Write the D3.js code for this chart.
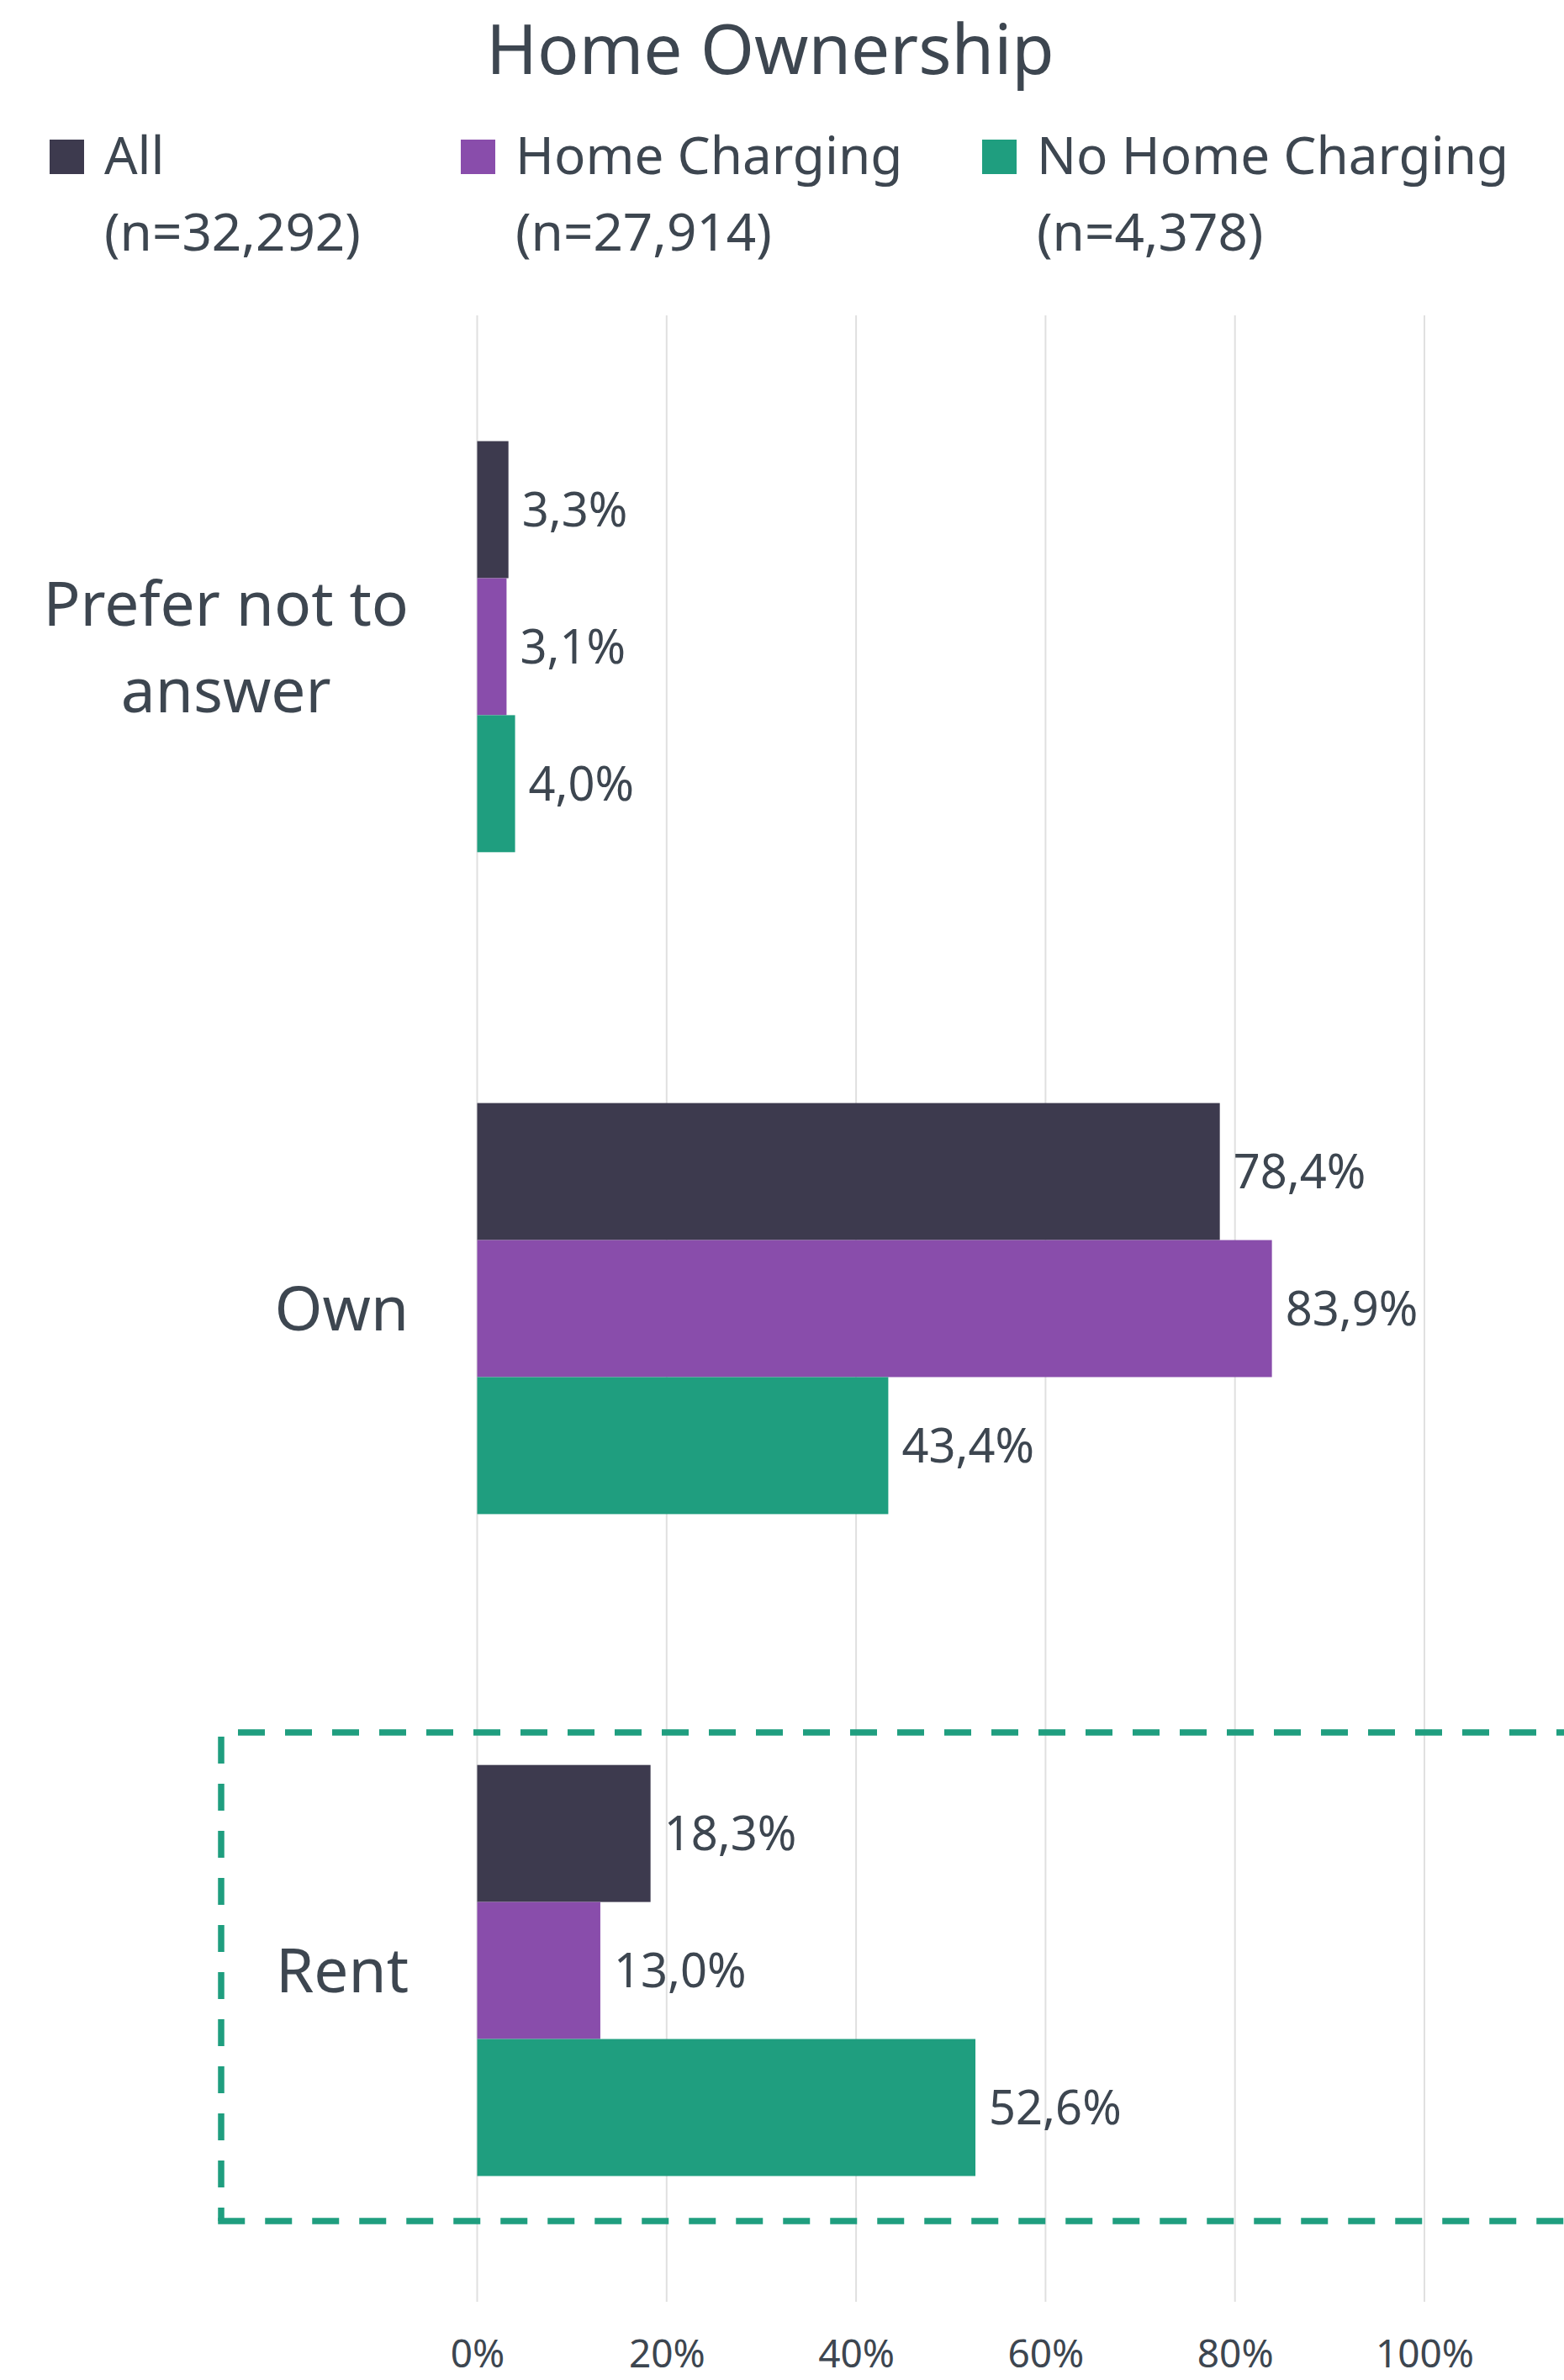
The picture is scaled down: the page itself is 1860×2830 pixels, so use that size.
<!DOCTYPE html>
<html>
<head>
<meta charset="utf-8">
<script src="https://cdn.jsdelivr.net/npm/d3@7"></script>
<style>
  html, body { margin: 0; padding: 0; background: #ffffff; }
  svg { display: block; font-family: "Noto Sans", "Open Sans", sans-serif; }
</style>
</head>
<body>
<script>
// Home ownership by charging access, percentage of respondents
const categories = ["Prefer not to answer", "Own", "Rent"];
const categoryLines = [["Prefer not to", "answer"], ["Own"], ["Rent"]];
const seriesNames = ["All", "Home Charging", "No Home Charging"];
const seriesCounts = ["(n=32,292)", "(n=27,914)", "(n=4,378)"];
const seriesColors = ["#3d3a4e", "#894dab", "#1f9e7f"];
const allValues = [3.3, 78.4, 18.3];
const homeChargingValues = [3.1, 83.9, 13.0];
const noHomeChargingValues = [4.0, 43.4, 52.6];
const tickValues = [0, 20, 40, 60, 80, 100];

const W = 1860, H = 2830;
const textColor = "#3d4650";
const seriesValues = [allValues, homeChargingValues, noHomeChargingValues];

const svg = d3.select("body").append("svg")
  .attr("width", W).attr("height", H);

// Scales
const plotTop = 375, plotBottom = 2737;
const x = d3.scaleLinear().domain([0, 100]).range([567.5, 1694]);
const y = d3.scaleBand().domain(categories)
  .range([plotTop, plotBottom]).paddingInner(0.379).paddingOuter(0.19);
const ySub = d3.scaleBand().domain(seriesNames).range([0, y.bandwidth()]).padding(0);

// Title
svg.append("text")
  .attr("x", 916).attr("y", 88)
  .attr("text-anchor", "middle")
  .attr("font-size", 82)
  .attr("fill", textColor)
  .text("Home Ownership");

// Legend
const legendX = [59, 548, 1168];
const legend = svg.append("g");
seriesNames.forEach((name, i) => {
  const g = legend.append("g").attr("transform", `translate(${legendX[i]},0)`);
  g.append("rect").attr("x", 0).attr("y", 166).attr("width", 41).attr("height", 41)
    .attr("fill", seriesColors[i]);
  const t = g.append("text").attr("x", 65).attr("y", 207)
    .attr("font-size", 62).attr("fill", textColor);
  t.append("tspan").attr("x", 65).attr("y", 207).text(name);
  t.append("tspan").attr("x", 65).attr("y", 298).text(seriesCounts[i]);
});

// Vertical gridlines
svg.append("g").selectAll("line")
  .data(tickValues).join("line")
  .attr("x1", d => x(d)).attr("x2", d => x(d))
  .attr("y1", plotTop).attr("y2", plotBottom)
  .attr("stroke", "#e0e0e0").attr("stroke-width", 2);

// Axis tick labels
const xAxis = d3.axisBottom(x).tickValues(tickValues)
  .tickFormat(d => d + "%").tickSize(0).tickPadding(0);
const axisG = svg.append("g").attr("transform", `translate(0,${2815})`).call(xAxis);
axisG.select(".domain").remove();
axisG.selectAll("text")
  .attr("dy", 0).attr("y", 0)
  .attr("font-size", 46)
  .attr("font-family", "\"Noto Sans\", sans-serif")
  .attr("fill", textColor);

// Bars
const rows = [];
categories.forEach((c, ci) => {
  seriesNames.forEach((s, si) => {
    rows.push({ category: c, series: s, value: seriesValues[si][ci], color: seriesColors[si] });
  });
});

const fmt = v => d3.format(".1f")(v).replace(".", ",") + "%";

svg.append("g").selectAll("rect")
  .data(rows).join("rect")
  .attr("x", x(0))
  .attr("y", d => y(d.category) + ySub(d.series))
  .attr("width", d => x(d.value) - x(0))
  .attr("height", ySub.bandwidth())
  .attr("fill", d => d.color);

// Value labels
svg.append("g").selectAll("text")
  .data(rows).join("text")
  .attr("x", d => x(d.value) + 16)
  .attr("y", d => y(d.category) + ySub(d.series) + ySub.bandwidth() / 2)
  .attr("dy", "0.36em")
  .attr("font-size", 56)
  .attr("fill", textColor)
  .text(d => fmt(d.value));

// Category labels: lines centred within a right-aligned block
const catG = svg.append("g");
categories.forEach((c, ci) => {
  const lines = categoryLines[ci];
  const fs = 73, lh = 103;
  const g = catG.append("g");
  const texts = lines.map((ln) => g.append("text")
    .attr("font-size", fs).attr("fill", textColor)
    .attr("text-anchor", "middle").text(ln));
  const widths = texts.map(t => t.node().getComputedTextLength());
  const blockW = d3.max(widths);
  const rightEdge = 486;
  const cy = y(c) + y.bandwidth() / 2;
  const firstBaseline = cy - (lines.length - 1) * lh / 2 + 0.36 * fs;
  texts.forEach((t, li) => {
    t.attr("x", rightEdge - blockW / 2).attr("y", firstBaseline + li * lh);
  });
});

// Dashed highlight frame around the Rent group
const boxLeft = 263, boxTop = 2060, boxBottom = 2641, boxRight = 1900;
const frame = svg.append("g")
  .attr("fill", "none").attr("stroke", "#1f9e7f").attr("stroke-width", 7.5)
  .attr("stroke-dasharray", "32 24");
frame.append("path").attr("d", `M${boxLeft},${boxTop}H${boxRight}`).attr("stroke-dashoffset", 36);
frame.append("path").attr("d", `M${boxLeft},${boxTop}V${boxBottom}`).attr("stroke-dashoffset", 51);
frame.append("path").attr("d", `M${boxLeft - 3.75},${boxBottom}H${boxRight}`).attr("stroke-dashoffset", 0);
</script>
</body>
</html>
